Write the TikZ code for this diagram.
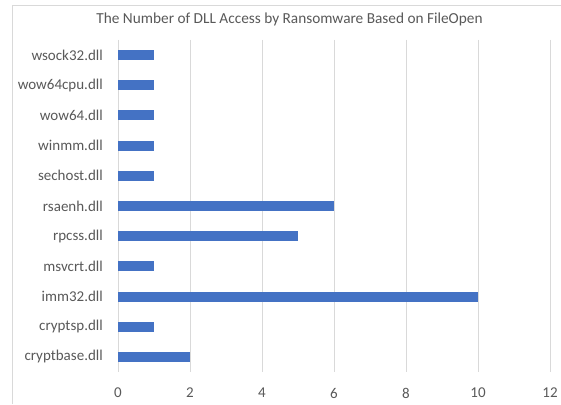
\documentclass[tikz,border=0pt]{standalone}
\usepackage{fontspec}
\setmainfont{Carlito}
\definecolor{txt}{HTML}{595959}
\definecolor{gridc}{HTML}{D9D9D9}
\definecolor{barc}{HTML}{4472C4}
\begin{document}
\begin{tikzpicture}[x=1pt,y=-1pt,
  catlabel/.style={anchor=east,inner sep=0pt,text=txt,font=\fontsize{15}{16}\selectfont},
  ticklabel/.style={anchor=center,inner sep=0pt,text=txt,font=\fontsize{15}{16}\selectfont},
  gridline/.style={draw=gridc,line width=0.9pt},
  barstyle/.style={fill=barc}]
\useasboundingbox (0,0) rectangle (561,404);
\fill[white] (0,0) rectangle (561,404);
% outer frame
\draw[gridc,line width=0.9pt] (12,404) -- (12,5) -- (561,5);
% title
\node[inner sep=0pt,text=txt,font=\fontsize{15.3}{16}\selectfont] (title) at (289.5,19) {The Number of DLL Access by Ransomware Based on FileOpen};
% grid
\foreach \v in {0,2,4,6,8,10,12}{
  \pgfmathsetmacro{\xx}{118+36*\v}
  \draw[gridline] (\xx,40) -- (\xx,372);
  \node[ticklabel] (t\v) at (\xx,393) {\v};
}
% bars
\foreach \i/\name/\val in {0/wsock32.dll/1,1/wow64cpu.dll/1,2/wow64.dll/1,3/winmm.dll/1,4/sechost.dll/1,5/rsaenh.dll/6,6/rpcss.dll/5,7/msvcrt.dll/1,8/imm32.dll/10,9/cryptsp.dll/1,10/cryptbase.dll/2}{
  \pgfmathsetmacro{\yy}{55.1+30.18*\i}
  \pgfmathsetmacro{\xe}{118+36*\val}
  \fill[barstyle] (118,\yy-5) rectangle (\xe,\yy+5);
  \node[catlabel] (c\i) at (103,\yy) {\name};
}
\end{tikzpicture}
\end{document}
